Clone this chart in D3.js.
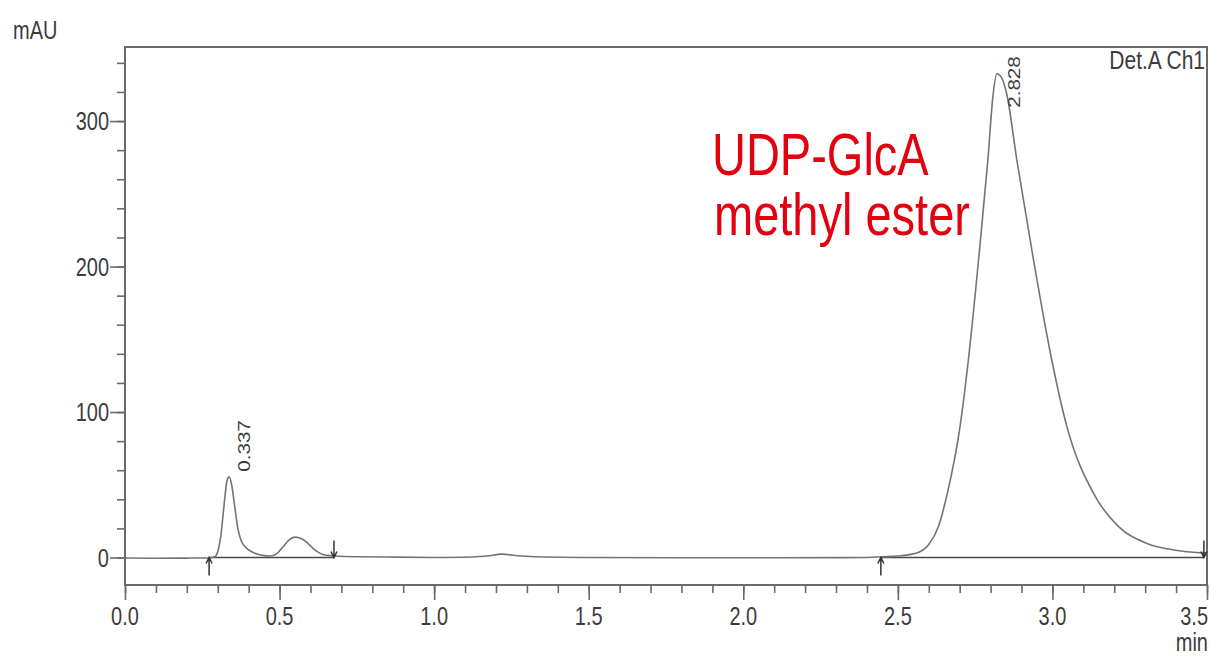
<!DOCTYPE html>
<html>
<head>
<meta charset="utf-8">
<script src="https://cdn.jsdelivr.net/npm/d3@7"></script>
<style>
  body { margin: 0; background: #fff; }
  text { font-family: "Liberation Sans", Arial, sans-serif; }
</style>
</head>
<body>
<div id="chart"></div>
<script>
// Chromatogram data (time in min, signal in mAU)
const times = [0.00, 0.10, 0.20, 0.27, 0.29, 0.30, 0.31, 0.32, 0.33, 0.337, 0.345, 0.355, 0.365, 0.375,
  0.39, 0.41, 0.43, 0.45, 0.47, 0.49, 0.51, 0.53, 0.55, 0.57, 0.59, 0.61, 0.63, 0.65, 0.68,
  0.75, 0.85, 1.00, 1.10, 1.17, 1.22, 1.27, 1.35, 1.50, 1.80, 2.10, 2.40, 2.45, 2.50, 2.55,
  2.58, 2.60, 2.631, 2.660, 2.701, 2.728, 2.761, 2.791, 2.808, 2.820, 2.835, 2.852, 2.885,
  2.939, 2.998, 3.047, 3.133, 3.214, 3.306, 3.392, 3.478, 3.50];
const signal = [-0.3, -0.5, -0.4, -0.3, 0.5, 4, 15, 35, 53, 55.5, 50, 35, 20, 12,
  7, 4, 2.2, 1.3, 1.0, 2.5, 7, 12, 14, 13, 10, 6, 3, 1.5, 1.0,
  0.5, 0.3, 0, 0.2, 1, 2.3, 1.2, 0.3, 0, -0.2, -0.2, 0, 0.5, 1.0, 2.5,
  5, 9, 21.2, 44.1, 89.8, 135.6, 204.3, 273, 318, 332.5, 330, 318.8, 273,
  204.3, 135.6, 89.8, 44.1, 21.2, 9.7, 5.2, 3.3, 3.2];

// Integration baselines and their start/end markers
const baselineStarts = [0.272, 2.445];
const baselineEnds = [0.676, 3.49];

// Peak retention time labels
const peakTimes = [0.337, 2.828];
const peakLabels = ["0.337", "2.828"];
const peakHeights = [55.5, 332.5];

// Axis ticks
const xMajor = [0, 0.5, 1.0, 1.5, 2.0, 2.5, 3.0, 3.5];
const xLabels = ["0.0", "0.5", "1.0", "1.5", "2.0", "2.5", "3.0", "3.5"];
const yMajor = [0, 100, 200, 300];
const yLabels = ["0", "100", "200", "300"];

const svgWidth = 1211;
const svgHeight = 657;
const margin = { top: 47, right: 4, bottom: 72, left: 125 };
const width = svgWidth - margin.left - margin.right;
const height = svgHeight - margin.top - margin.bottom;
const stretch = 1.25; // the source picture is stretched vertically
const peakLabelDy = [-5, 34]; // label start offset from apex, px

const svg = d3.select("#chart")
  .append("svg")
  .attr("width", svgWidth)
  .attr("height", svgHeight);

const g = svg.append("g")
  .attr("transform", `translate(${margin.left}, ${margin.top})`);

const x = d3.scaleLinear().domain([0, 3.5]).range([0, width]);
const y = d3.scaleLinear().domain([-18.9, 350.9]).range([height, 0]);

const axisColor = "#6a6a6a";
const textColor = "#3c3c3c";

// frame
g.append("rect")
  .attr("x", 0).attr("y", 0)
  .attr("width", width).attr("height", height)
  .attr("fill", "none")
  .attr("stroke", axisColor)
  .attr("stroke-width", 2);

// minor + major ticks
const xMinor = d3.range(0, 3.5001, 0.1);
const yMinor = d3.range(0, 341, 20);

function styleAxis(sel) {
  sel.select(".domain").remove();
  sel.selectAll("line").attr("stroke", axisColor).attr("stroke-width", 1.6);
  sel.selectAll("text").remove();
}

g.append("g").attr("transform", `translate(0, ${height})`)
  .call(d3.axisBottom(x).tickValues(xMinor).tickSize(8)).call(styleAxis);
g.append("g").attr("transform", `translate(0, ${height})`)
  .call(d3.axisBottom(x).tickValues(xMajor).tickSize(15)).call(styleAxis);
g.append("g")
  .call(d3.axisLeft(y).tickValues(yMinor).tickSize(8)).call(styleAxis);
g.append("g")
  .call(d3.axisLeft(y).tickValues(yMajor).tickSize(15)).call(styleAxis);

// stretched text helper
function label(parent, px, py, str, size, anchor, color, rotate) {
  return parent.append("text")
    .attr("transform", `translate(${px}, ${py}) scale(1, ${stretch})` + (rotate ? " rotate(-90)" : ""))
    .attr("text-anchor", anchor)
    .attr("font-size", size)
    .attr("fill", color)
    .text(str);
}

// tick labels
yMajor.forEach((v, i) => label(g, -16, y(v) + 9, yLabels[i], 20, "end", textColor));
xMajor.forEach((v, i) => {
  const last = i === xMajor.length - 1;
  label(g, last ? x(v) + 1 : x(v), height + 40, xLabels[i], 20, last ? "end" : "middle", textColor);
});

label(svg, 13, 39, "mAU", 20, "start", textColor);
label(svg, margin.left + width + 1, svgHeight - 6, "min", 20, "end", textColor);
label(g, width - 2, 22, "Det.A Ch1", 21, "end", textColor);

// integration baselines
baselineStarts.forEach((s, i) => {
  g.append("line")
    .attr("x1", x(s)).attr("x2", x(baselineEnds[i]))
    .attr("y1", y(0)).attr("y2", y(0))
    .attr("stroke", "#4a4a4a").attr("stroke-width", 1.6);
});

// trace
const trace = times.map((t, i) => [t, signal[i]]);
const line = d3.line()
  .x(d => x(d[0]))
  .y(d => y(d[1]))
  .curve(d3.curveMonotoneX);

g.append("path")
  .datum(trace)
  .attr("d", line)
  .attr("fill", "none")
  .attr("stroke", "#747474")
  .attr("stroke-width", 1.6);

// start markers: tick below baseline with arrow pointing up
baselineStarts.forEach(s => {
  const mx = x(s), my = y(0);
  g.append("path")
    .attr("d", `M${mx},${my + 18}V${my} M${mx - 3},${my + 6}L${mx},${my}L${mx + 3},${my + 6}`)
    .attr("fill", "none").attr("stroke", "#333").attr("stroke-width", 1.5);
});
// end markers: tick above baseline with arrow pointing down
baselineEnds.forEach(s => {
  const mx = x(s), my = y(0);
  g.append("path")
    .attr("d", `M${mx},${my - 17}V${my} M${mx - 3},${my - 6}L${mx},${my}L${mx + 3},${my - 6}`)
    .attr("fill", "none").attr("stroke", "#333").attr("stroke-width", 1.5);
});

// peak labels (rotated)
peakTimes.forEach((t, i) => {
  label(g, x(t) + 21, y(peakHeights[i]) + peakLabelDy[i], peakLabels[i], 16.5, "start", textColor, true);
});

// annotation
label(g, 712 - margin.left, 175 - margin.top, "UDP-GlcA", 47, "start", "#e3000f");
label(g, 714 - margin.left, 235 - margin.top, "methyl ester", 47, "start", "#e3000f");
</script>
</body>
</html>
